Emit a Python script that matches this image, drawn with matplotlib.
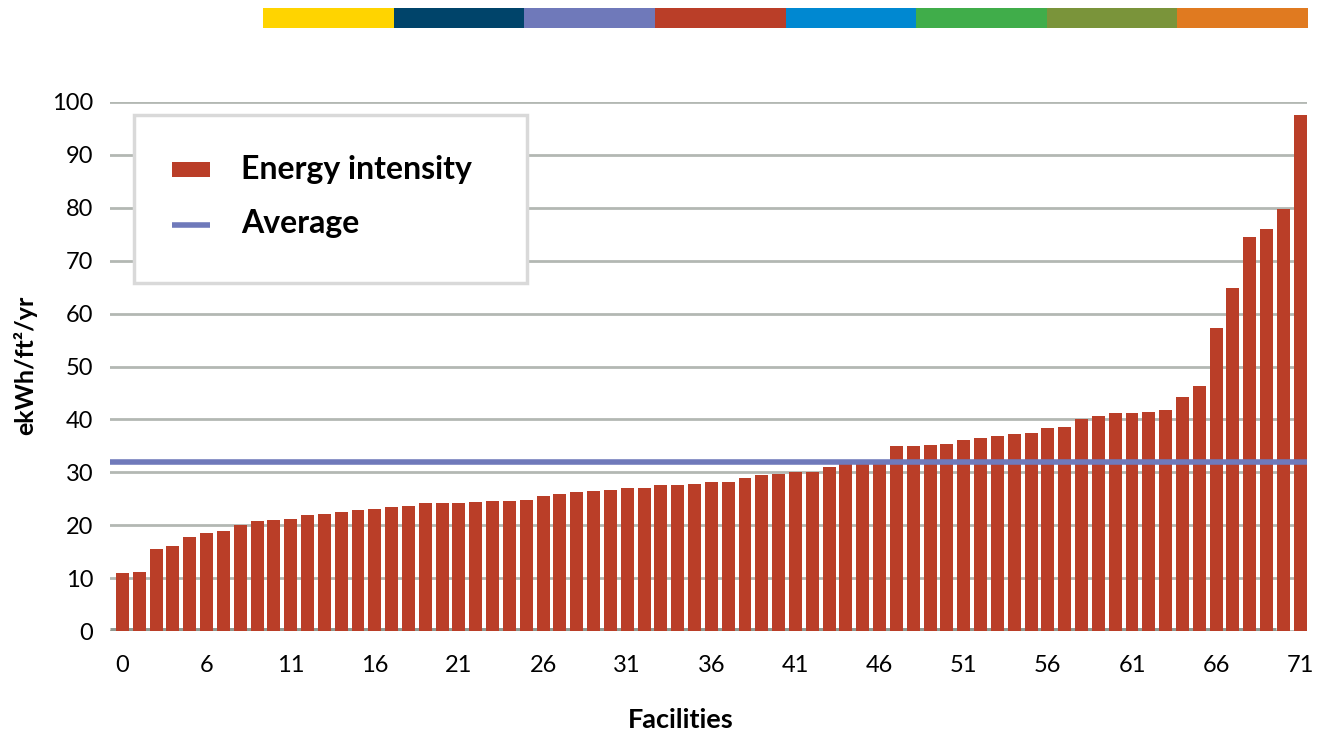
import matplotlib
matplotlib.use("Agg")
import matplotlib.pyplot as plt
from matplotlib.patches import Rectangle
from matplotlib.lines import Line2D

# Energy use intensity per facility, sorted ascending (ekWh/ft²/yr)
intensity = [
    11.0, 11.2, 15.5, 16.1, 17.8, 18.5, 18.9, 20.0, 20.8, 21.0,
    21.2, 21.9, 22.1, 22.5, 22.9, 23.1, 23.4, 23.6, 24.2, 24.2,
    24.2, 24.4, 24.6, 24.6, 24.8, 25.5, 25.9, 26.3, 26.5, 26.7,
    27.1, 27.1, 27.6, 27.6, 27.8, 28.2, 28.2, 28.9, 29.5, 29.7,
    30.1, 30.1, 31.0, 31.7, 31.8, 31.9, 35.0, 35.0, 35.1, 35.3,
    36.1, 36.4, 36.9, 37.2, 37.4, 38.3, 38.5, 40.1, 40.6, 41.2,
    41.2, 41.4, 41.7, 44.2, 46.3, 57.3, 64.8, 74.5, 75.9, 79.7,
    97.5,
]
average = 32.0
tick_positions = [0, 5, 10, 15, 20, 25, 30, 35, 40, 45, 50, 55, 60, 65, 70]
tick_labels = ["0", "6", "11", "16", "21", "26", "31", "36", "41", "46",
               "51", "56", "61", "66", "71"]
y_ticks = [0, 10, 20, 30, 40, 50, 60, 70, 80, 90, 100]
legend_labels = ["Energy intensity", "Average"]
strip_colors = ["#FFD400", "#00446A", "#6F79BA", "#BA3E28",
                "#0088D1", "#40AD4A", "#7A943A", "#E07A20"]

BAR = "#BA3E28"
AVG = "#6F79BA"
GRID = "#B3B8B3"
BASE = "#8F988F"
W, H = 1318, 735

plt.rcParams["font.family"] = ["Lato", "DejaVu Sans"]

fig = plt.figure(figsize=(W / 100, H / 100), dpi=100)


def fx(px):
    return px / W


def fy(py):
    return 1 - py / H


# decorative colour strip along the top
strip = fig.add_axes([fx(263), fy(28), (1308 - 263) / W, 20 / H])
for i, c in enumerate(strip_colors):
    strip.add_patch(Rectangle((i, 0), 1, 1, facecolor=c, edgecolor="none"))
strip.set_xlim(0, len(strip_colors))
strip.set_ylim(0, 1)
strip.axis("off")

ax = fig.add_axes([fx(110), fy(631), (1307 - 110) / W, (631 - 102) / H])
x = list(range(len(intensity)))
ax.bar(x, intensity, width=0.77, color=BAR, zorder=3)
ax.axhline(average, color=AVG, lw=4, zorder=4)

ax.set_xlim(-0.74, 70.4)
ax.set_ylim(0, 100)
ax.set_yticks(y_ticks)
ax.set_xticks(tick_positions)
ax.set_xticklabels(tick_labels)
ax.tick_params(axis="both", length=0, labelsize=17, colors="black")
ax.tick_params(axis="y", pad=12)
ax.tick_params(axis="x", pad=17)
ax.grid(axis="y", color=GRID, lw=2, zorder=0)
ax.grid(axis="x", visible=False)
for s in ax.spines.values():
    s.set_visible(False)
ax.axhline(0, xmin=0, xmax=(68.55 + 0.74) / (70.4 + 0.74), color=BASE, lw=5,
           zorder=2, solid_capstyle="butt")

# axis titles
fig.text(fx(25), fy(365), "ekWh/ft²/yr", rotation=90, fontsize=18,
         fontweight="bold", ha="center", va="center")
fig.text(fx(681), fy(720), "Facilities", fontsize=19.5, fontweight="bold",
         ha="center", va="center")

# legend box, laid out by hand
fig.patches.append(Rectangle((fx(134), fy(283)), (527 - 134) / W, (283 - 115) / H,
                             transform=fig.transFigure, facecolor="white",
                             edgecolor="#D9D9D9", lw=2.5, zorder=5))
fig.patches.append(Rectangle((fx(172), fy(177)), (210 - 172) / W, 15 / H,
                             transform=fig.transFigure, facecolor=BAR,
                             edgecolor="none", zorder=6))
fig.lines.append(Line2D([fx(172), fx(210)], [fy(225), fy(225)],
                        transform=fig.transFigure, color=AVG, lw=4, zorder=6,
                        solid_capstyle="butt"))
fig.text(fx(241), fy(169), legend_labels[0], fontsize=23, fontweight="bold",
         ha="left", va="center", zorder=7)
fig.text(fx(241), fy(224), legend_labels[1], fontsize=23, fontweight="bold",
         ha="left", va="center", zorder=7)

fig.savefig("out.png", dpi=100)
